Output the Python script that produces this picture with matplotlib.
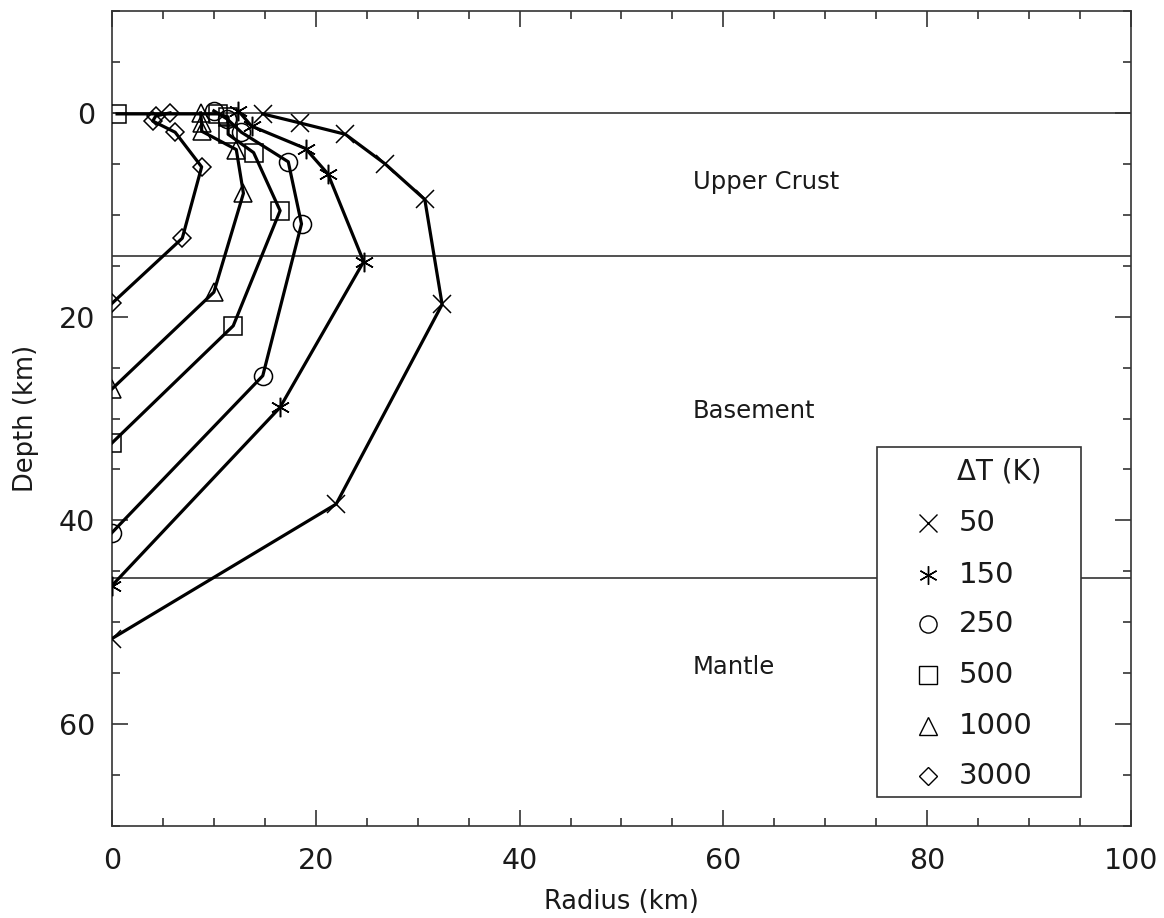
import numpy as np
import matplotlib.pyplot as plt
from matplotlib.patches import Rectangle
from matplotlib.ticker import MultipleLocator

# Radius of the disturbed zone against depth, one curve per temperature excess
delta_t = ["50", "150", "250", "500", "1000", "3000"]

radius_50 = [14.8, 18.5, 22.9, 26.8, 30.7, 32.4, 22.0, 0.0]
depth_50 = [0.1, 1.0, 2.1, 5.0, 8.5, 18.8, 38.4, 51.6]

radius_150 = [12.4, 13.7, 19.0, 21.2, 24.7, 16.5, 0.0]
depth_150 = [-0.2, 1.3, 3.5, 6.0, 14.6, 28.9, 46.4]

radius_250 = [10.0, 11.3, 12.7, 17.3, 18.6, 14.8, 0.0]
depth_250 = [-0.2, 0.6, 1.9, 4.8, 10.9, 25.8, 41.2]

radius_500 = [0.5, 10.4, 11.4, 11.4, 13.9, 16.5, 11.9, 0.0]
depth_500 = [0.1, 0.1, 0.4, 2.1, 3.9, 9.6, 20.9, 32.4]

radius_1000 = [8.7, 8.8, 8.8, 12.2, 12.9, 10.0, 0.0]
depth_1000 = [0.0, 1.0, 1.8, 3.6, 7.9, 17.6, 27.1]

radius_3000 = [5.7, 4.3, 4.0, 6.2, 8.8, 6.9, 0.0]
depth_3000 = [0.0, 0.3, 0.8, 1.9, 5.3, 12.3, 18.7]

# layer boundaries and names
boundaries = [0.0, 14.0, 45.7]
layer_names = ["Upper Crust", "Basement", "Mantle"]
layer_depths = [6.8, 29.3, 54.4]

series = [
    (radius_50, depth_50, "x", 13),
    (radius_150, depth_150, (6, 2, 0), 14),
    (radius_250, depth_250, "o", 13),
    (radius_500, depth_500, "s", 13),
    (radius_1000, depth_1000, "^", 13),
    (radius_3000, depth_3000, "D", 9.5),
]

ink = "#1a1a1a"
plt.rcParams["font.family"] = ["DejaVu Sans"]

fig = plt.figure(figsize=(11.64, 9.18), dpi=100)
ax = fig.add_axes([0.0962, 0.1002, 0.8754, 0.8878])

for y in boundaries:
    ax.axhline(y, color="#333333", lw=1.2, zorder=1)

for r, d, m, ms in series:
    ax.plot(r, d, color="black", lw=2.3, marker=m, ms=ms, mfc="none",
            mec="black", mew=1.1, zorder=3)

for name, y in zip(layer_names, layer_depths):
    ax.text(57.0, y, name, fontsize=17.5, color=ink, va="center", ha="left")

# key box
ax.add_patch(Rectangle((75.1, 32.8), 20.0, 34.4, facecolor="white",
                       edgecolor="#333333", lw=1.2, zorder=4))
ax.text(82.9, 35.2, "ΔT (K)", fontsize=20, color=ink, va="center", zorder=5)
key_rows = [40.3, 45.4, 50.2, 55.2, 60.2, 65.1]
for (r, d, m, ms), label, y in zip(series, delta_t, key_rows):
    ax.plot([80.1], [y], marker=m, ms=ms * 0.95, mfc="none", mec="black",
            mew=1.0, ls="none", zorder=5)
    ax.text(83.1, y, label, fontsize=21, color=ink, va="center", zorder=5)

ax.set_xlim(0, 100)
ax.set_ylim(70, -10)
ax.xaxis.set_major_locator(MultipleLocator(20))
ax.xaxis.set_minor_locator(MultipleLocator(5))
ax.yaxis.set_major_locator(MultipleLocator(20))
ax.yaxis.set_minor_locator(MultipleLocator(5))
ax.tick_params(which="both", direction="in", top=True, right=True,
               color="#333333", width=1.2)
ax.tick_params(which="major", length=11.5, labelsize=20.5, labelcolor=ink)
ax.tick_params(axis="x", which="major", pad=15)
ax.tick_params(axis="y", which="major", pad=12)
ax.tick_params(which="minor", length=6)
for s in ax.spines.values():
    s.set_color("#333333")
    s.set_linewidth(1.2)

ax.set_xlabel("Radius (km)", fontsize=18.5, color=ink, labelpad=10)
ax.set_ylabel("Depth (km)", fontsize=18.5, color=ink, labelpad=14)

fig.savefig("out.png", dpi=100)
